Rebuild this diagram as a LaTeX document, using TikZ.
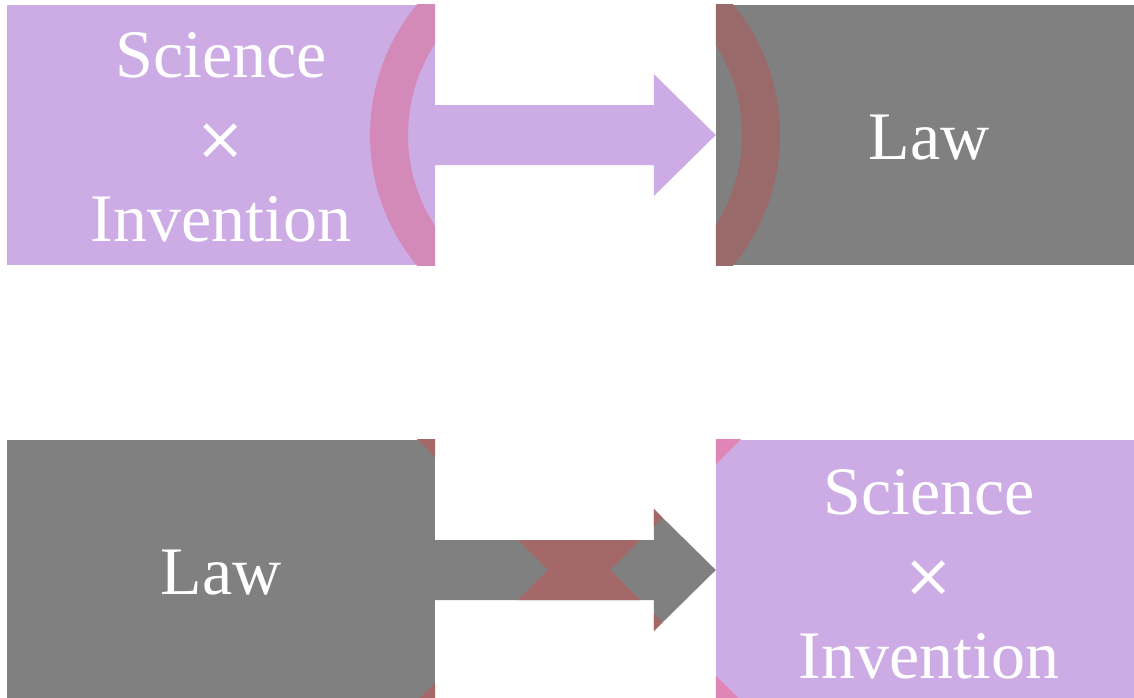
\documentclass[tikz,border=0pt]{standalone}
\usepackage{fontspec}
\setmainfont{Liberation Serif}
\newfontfamily\signfont{DejaVu Sans}
\usetikzlibrary{calc}

\definecolor{lilac}{HTML}{CDABE5}
\definecolor{slate}{HTML}{808080}
\definecolor{ringonlilac}{HTML}{D48AB8}
\definecolor{ringonslate}{HTML}{9A6A6A}
\definecolor{crossonslate}{HTML}{A56868}
\definecolor{crossonlilac}{HTML}{DF86B6}

% block arrow from the east side of #1 to the west side of #2
\newcommand{\blockarrowpath}[2]{($(#1.east)+(-1,-30)$) -- ($(#2.west)+(-62,-30)$) -- ($(#2.west)+(-62,-61)$) -- (#2.west) -- ($(#2.west)+(-62,61)$) -- ($(#2.west)+(-62,30)$) -- ($(#1.east)+(-1,30)$) -- cycle}
\newcommand{\crossbands}{($(crossc)+(-300,-300)$) -- ($(crossc)+(300,300)$) ($(crossc)+(-300,300)$) -- ($(crossc)+(300,-300)$)}
\newcommand{\timessign}{{\signfont\fontsize{60}{82}\selectfont ×}}

\tikzset{
  panel/.style={rectangle, inner sep=0pt, minimum width=428pt, minimum height=260pt},
  label/.style={text=white, align=center, inner sep=0pt, font=\fontsize{68}{82}\selectfont},
}

\begin{document}
\begin{tikzpicture}[x=1pt, y=-1pt]
  \fill[white] (0,0) rectangle (1134,697);
  \clip (0,0) rectangle (1134,697);

  % panels
  \node[panel, fill=lilac] (sci1) at (221,135) {};
  \node[panel, fill=slate] (law1) at (930,135) {};
  \node[panel, fill=slate] (law2) at (221,570) {};
  \node[panel, fill=lilac] (sci2) at (930,570) {};

  % connectors
  \fill[lilac] \blockarrowpath{sci1}{law1};
  \fill[slate] \blockarrowpath{law2}{sci2};

  % ring across the upper row, shown only on the panels
  \coordinate (ringc) at (575,135);
  \begin{scope}
    \clip (sci1.south west) rectangle (sci1.north east);
    \draw[ringonlilac, line width=38pt] (ringc) circle[radius=186];
  \end{scope}
  \begin{scope}
    \clip (law1.south west) rectangle (law1.north east);
    \draw[ringonslate, line width=38pt] (ringc) circle[radius=186];
  \end{scope}

  % cross across the lower row, shown only on the panels and the arrow
  \coordinate (crossc) at (579,570);
  \begin{scope}
    \clip (law2.south west) rectangle (law2.north east);
    \draw[crossonslate, line width=44pt] \crossbands;
  \end{scope}
  \begin{scope}
    \clip \blockarrowpath{law2}{sci2};
    \draw[crossonslate, line width=44pt] \crossbands;
  \end{scope}
  \begin{scope}
    \clip (sci2.south west) rectangle (sci2.north east);
    \draw[crossonlilac, line width=44pt] \crossbands;
  \end{scope}

  % labels
  \node[label] (sci1text) at ($(sci1.center)+(0,2)$) {Science\\\timessign\\Invention};
  \node[label] (law1text) at ($(law1.center)+(-1,3)$) {Law};
  \node[label] (law2text) at ($(law2.center)+(0,3)$) {Law};
  \node[label] (sci2text) at ($(sci2.center)+(-1,4)$) {Science\\\timessign\\Invention};
\end{tikzpicture}
\end{document}
